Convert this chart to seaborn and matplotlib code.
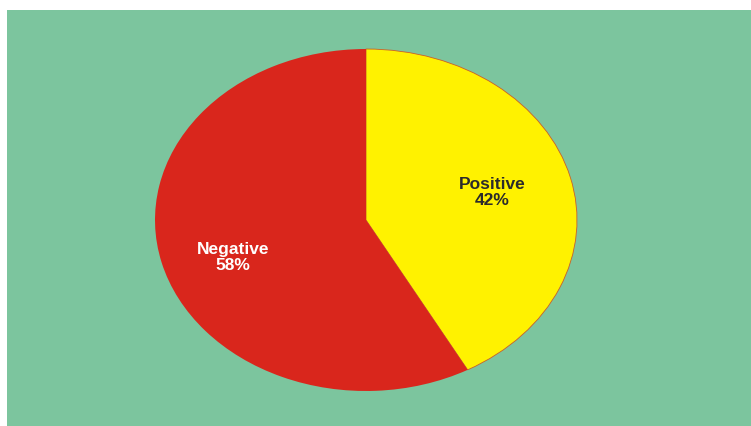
import matplotlib
matplotlib.use("Agg")
import matplotlib.pyplot as plt
import seaborn as sns

sns.set_style("white")
plt.rcParams["font.family"] = ["Liberation Sans", "DejaVu Sans"]

categories = ["Positive", "Negative"]
shares = [42, 58]
colors = ["#FFF200", "#D9261C"]
label_colors = ["#2B2B2B", "#FFFFFF"]
label_pos = [(0.60, 0.16), (-0.63, -0.22)]

fig = plt.figure(figsize=(7.51, 4.26), dpi=100, facecolor="white")
ax = fig.add_axes([7 / 751, 0, 744 / 751, 416 / 426])
ax.set_facecolor("#7CC59E")

wedges, _ = ax.pie(shares, colors=colors, startangle=90, counterclock=False,
                   radius=1.0, center=(0, 0), frame=True,
                   wedgeprops=dict(linewidth=0))
wedges[0].set_edgecolor("#C8602A")
wedges[0].set_linewidth(0.6)

for cat, val, col, (x, y) in zip(categories, shares, label_colors, label_pos):
    ax.text(x, y, f"{cat}\n{val}%", ha="center", va="center", color=col,
            fontsize=12.5, fontweight="bold", linespacing=1.05)

ax.set_aspect("auto")
ax.set_xlim(-359 / 211, 385 / 211)
ax.set_ylim(-206 / 171, 210 / 171)
ax.set_xticks([])
ax.set_yticks([])
for s in ax.spines.values():
    s.set_visible(False)

fig.savefig("out.png", dpi=100, facecolor="white")
